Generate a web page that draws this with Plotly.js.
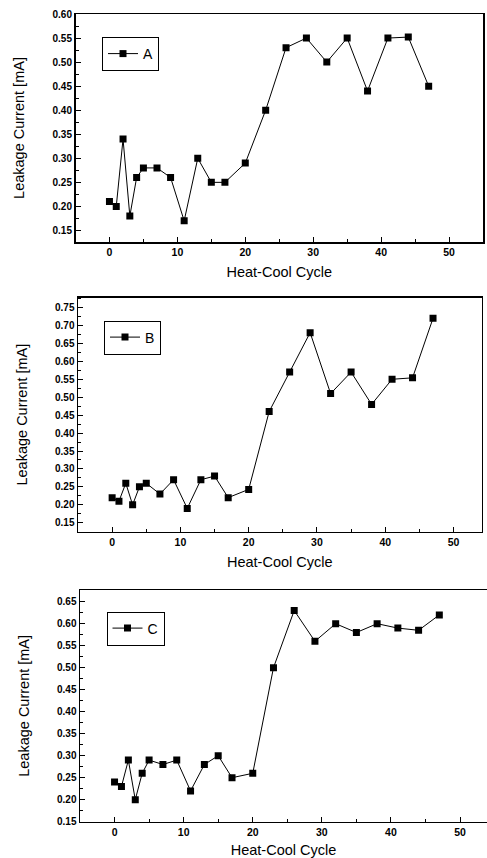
<!DOCTYPE html>
<html>
<head>
<meta charset="utf-8">
<script src="https://cdn.plot.ly/plotly-3.0.1.min.js"></script>
<style>html,body{margin:0;padding:0;background:#fff;}#chart{width:487px;height:858px;}</style>
</head>
<body>
<div id="chart"></div>
<script>
const cycles = [0, 1, 2, 3, 4, 5, 7, 9, 11, 13, 15, 17, 20, 23, 26, 29, 32, 35, 38, 41, 44, 47];
const seriesA = [0.21, 0.20, 0.34, 0.18, 0.26, 0.28, 0.28, 0.26, 0.17, 0.30, 0.25, 0.25, 0.29, 0.40, 0.53, 0.55, 0.50, 0.55, 0.44, 0.55, 0.552, 0.45];
const seriesB = [0.22, 0.21, 0.26, 0.20, 0.25, 0.26, 0.23, 0.27, 0.19, 0.27, 0.28, 0.22, 0.243, 0.46, 0.57, 0.68, 0.51, 0.57, 0.48, 0.55, 0.554, 0.72];
const seriesC = [0.24, 0.23, 0.29, 0.20, 0.26, 0.29, 0.28, 0.29, 0.22, 0.28, 0.30, 0.25, 0.26, 0.50, 0.63, 0.56, 0.60, 0.58, 0.60, 0.59, 0.585, 0.62];
const names = ["A", "B", "C"];
const xTitle = "Heat-Cool Cycle";
const yTitle = "Leakage Current [mA]";

const W = 487, H = 858;
const FONT = "Liberation Sans, Arial, sans-serif";
const series = [seriesA, seriesB, seriesC];

const traces = series.map((s, i) => ({
  x: cycles, y: s, name: names[i], type: "scatter", mode: "lines+markers",
  xaxis: i === 0 ? "x" : "x" + (i + 1),
  yaxis: i === 0 ? "y" : "y" + (i + 1),
  legend: i === 0 ? "legend" : "legend" + (i + 1),
  line: {color: "#000", width: 1},
  marker: {symbol: "square", size: 7, color: "#000"}
}));

// panel geometry in page pixels
const panels = [
  {l: 75.5, r: 483, t: 14, b: 242, xr: [-5, 55], yr: [0.126, 0.60], leg: [102, 37]},
  {l: 78, r: 481.5, t: 297.5, b: 531.7, xr: [-5, 54.1], yr: [0.125, 0.778], leg: [104, 320.5]},
  {l: 80, r: 487, t: 590, b: 821.7, xr: [-5, 53.9], yr: [0.15, 0.6766], leg: [106.5, 611.5]}
];

const layout = {
  width: W, height: H,
  margin: {l: 0, r: 0, t: 0, b: 0},
  paper_bgcolor: "#fff", plot_bgcolor: "#fff",
  font: {family: FONT, color: "#000", size: 10},
  showlegend: true
};

panels.forEach((p, i) => {
  const sx = i === 0 ? "" : String(i + 1);
  layout["xaxis" + sx] = {
    domain: [p.l / W, p.r / W], range: p.xr, anchor: "y" + sx,
    showgrid: false, zeroline: false, showline: true, mirror: true,
    linecolor: "#000", linewidth: 1.5,
    ticks: "inside", ticklen: 5, tickwidth: 1, tickcolor: "#000",
    tick0: 0, dtick: 10,
    minor: {ticks: "inside", ticklen: 3, dtick: 5, tickcolor: "#000", showgrid: false},
    tickfont: {family: FONT, size: 10.5, color: "#000", weight: "bold"},
    title: {text: xTitle, font: {family: FONT, size: 14.5, color: "#000"}, standoff: 10}
  };
  layout["yaxis" + sx] = {
    domain: [1 - p.b / H, 1 - p.t / H], range: p.yr, anchor: "x" + sx,
    showgrid: false, zeroline: false, showline: true, mirror: true,
    linecolor: "#000", linewidth: 1.5,
    ticks: "inside", ticklen: 5, tickwidth: 1, tickcolor: "#000",
    tick0: 0, dtick: 0.05, tickformat: ".2f",
    minor: {ticks: "inside", ticklen: 3, dtick: 0.025, tickcolor: "#000", showgrid: false},
    tickfont: {family: FONT, size: 10, color: "#000", weight: "bold"},
    title: {text: yTitle, font: {family: FONT, size: 14.5, color: "#000"}, standoff: 24}
  };
  layout["legend" + sx] = {
    x: p.leg[0] / W, y: 1 - p.leg[1] / H, xanchor: "left", yanchor: "top",
    xref: "paper", yref: "paper",
    bgcolor: "#fff", bordercolor: "#000", borderwidth: 1,
    font: {family: FONT, size: 14, color: "#000"},
    itemwidth: 30, tracegroupgap: 0
  };
});

Plotly.newPlot("chart", traces, layout, {displayModeBar: false, staticPlot: true});
</script>
</body>
</html>
